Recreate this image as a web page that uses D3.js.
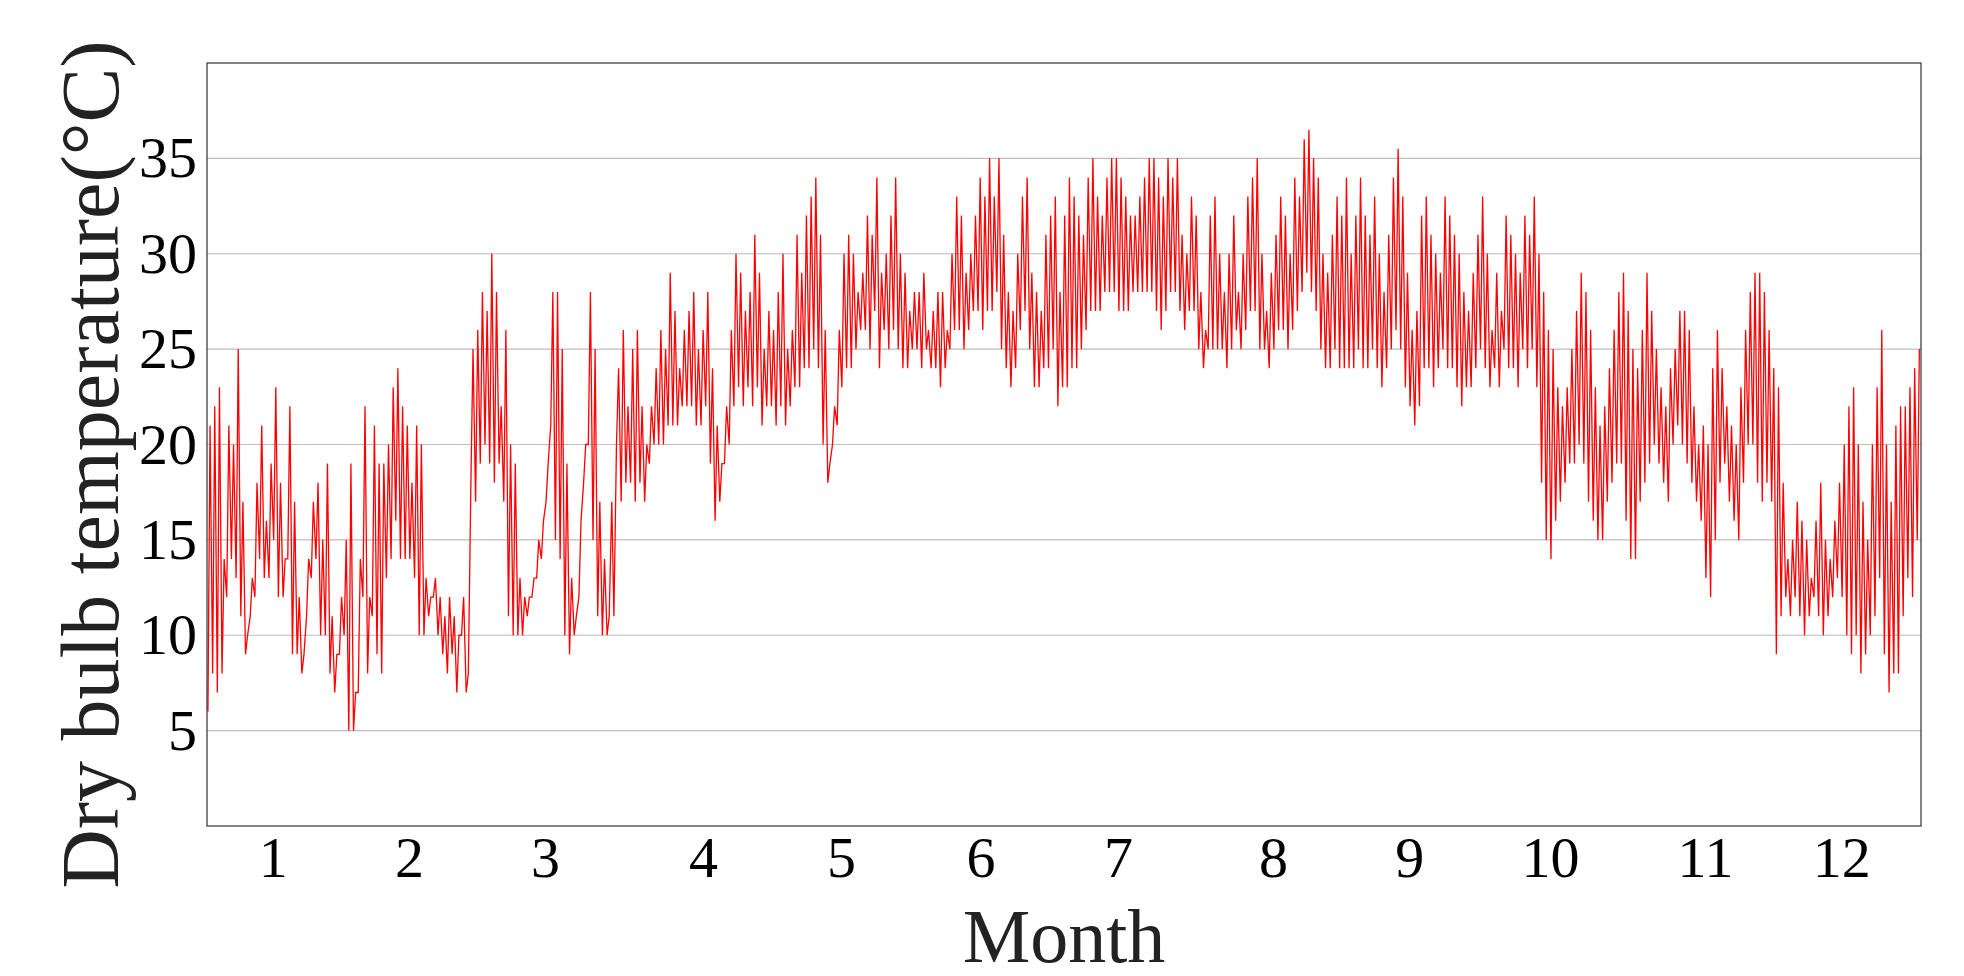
<!DOCTYPE html>
<html><head><meta charset="utf-8">
<script src="https://cdn.jsdelivr.net/npm/d3@7/dist/d3.min.js"></script>
<style>body{margin:0;background:#fff}</style></head>
<body><svg id="c" width="1964" height="976"></svg>
<script>
const monthTickDays=[14,43,72,105.6,135,164.7,194,227,256,286,319,348];
const monthLabels=["1","2","3","4","5","6","7","8","9","10","11","12"];
const yTicks=[5,10,15,20,25,30,35];
const dailyMax=[
21,22,23,14,21,20,25,17,10,13,18,21,16,19,23,18,14,22,17,12,9,14,17,18,15,19,11,9,12,15,19,
7,14,22,12,21,19,19,20,23,24,22,21,18,21,20,13,12,13,12,11,12,11,10,12,8,25,26,28,
27,30,28,22,26,20,19,13,12,12,13,15,16,19,28,28,25,19,13,11,16,20,28,25,17,14,11,11,24,26,22,
25,26,22,20,22,24,26,25,29,27,24,26,27,28,25,26,28,24,21,19,22,26,30,29,27,28,31,29,25,27,
26,28,30,25,26,31,29,32,33,34,31,26,19,22,26,30,31,30,28,29,32,31,34,29,30,32,34,30,29,27,28,
28,29,26,27,28,28,26,30,33,32,29,30,32,34,33,35,33,35,31,28,27,30,33,34,29,28,27,31,32,33,
28,32,34,33,32,31,34,35,33,32,34,35,35,34,33,32,32,33,34,35,35,34,33,35,34,35,31,30,33,32,28,
26,32,33,30,28,30,32,28,30,33,34,35,30,27,29,31,33,32,30,34,33,36,36.5,35,34,30,29,31,33,32,34,
30,32,34,32,31,33,30,28,31,34,35.5,33,29,26,27,32,33,31,30,29,33,32,31,30,28,27,29,31,33,30,
26,29,27,32,31,30,29,32,31,33,30,28,26,25,23,22,23,25,27,29,28,26,23,21,22,24,26,28,29,27,25,
24,26,29,27,25,23,22,24,25,27,27,26,22,20,21,20,24,26,24,22,21,20,23,26,28,29,29,28,26,24,
23,18,14,15,17,16,15,13,16,18,15,14,16,18,20,22,23,20,17,15,20,23,26,20,17,21,22,22,23,24,25];
const dailyMin=[
6,8,7,8,12,14,13,11,9,11,12,14,13,13,15,12,12,14,9,9,8,11,13,14,10,10,8,7,9,10,5,
5,7,12,8,11,9,8,13,14,16,14,14,14,13,10,10,11,12,10,9,8,9,7,10,7,18,17,19,
20,19,18,19,17,11,10,10,10,11,12,13,14,17,21,15,14,10,9,10,12,18,20,15,11,10,10,17,20,17,18,
18,17,18,17,19,20,20,20,21,21,21,22,22,22,21,21,22,19,16,17,19,20,22,23,22,23,22,23,21,22,
22,21,22,21,22,23,23,24,24,25,24,20,18,20,21,23,24,24,25,26,26,25,27,24,26,25,26,25,24,24,25,
25,24,25,24,24,23,24,25,26,26,25,26,27,27,26,27,27,28,25,24,23,24,26,27,25,23,23,24,24,25,
22,23,23,24,24,25,26,27,27,27,28,28,28,27,27,27,28,28,28,28,28,27,26,27,28,28,27,26,27,27,25,
24,25,25,25,25,24,25,26,25,26,27,27,25,25,24,25,26,26,25,26,27,28,29,28,27,25,24,24,25,24,24,
24,24,25,24,24,25,24,23,24,25,26,25,23,22,21,22,24,24,23,24,25,24,24,23,22,23,23,24,25,24,
23,24,23,25,24,24,23,25,24,25,23,18,15,14,16,17,18,19,19,20,19,17,16,15,15,17,18,19,19,16,14,
14,17,18,19,20,19,18,17,20,21,20,19,18,17,16,13,12,15,18,19,17,16,15,18,20,20,18,17,18,17,
9,11,12,11,12,11,10,11,12,11,10,11,12,13,12,10,9,10,8,9,10,11,13,9,7,8,8,11,13,12,15];

const svg=d3.select("#c");
const L=207,R=1921,T=63,B=826;
const x=d3.scaleLinear().domain([0,365]).range([L,R]);
const y=d3.scaleLinear().domain([0,40]).range([B,T]);
const g=svg.append("g");
g.selectAll("line.grid").data(yTicks).join("line").attr("x1",L).attr("x2",R)
 .attr("y1",d=>y(d)).attr("y2",d=>y(d)).attr("stroke","#bdbdbd").attr("stroke-width",1.2);
const pts=[];
dailyMax.forEach((mx,i)=>{pts.push([i+0.2,dailyMin[i]]);pts.push([i+0.65,mx]);});
g.append("path").datum(pts).attr("fill","none").attr("stroke","#ff0000").attr("stroke-width",1.3)
 .attr("d",d3.line().x(d=>x(d[0])).y(d=>y(d[1])));
g.append("rect").attr("x",L).attr("y",T).attr("width",R-L).attr("height",B-T)
 .attr("fill","none").attr("stroke","#333").attr("stroke-width",1.2);
const font="'Liberation Serif','Times New Roman',serif";
const xa=svg.append("g").attr("transform",`translate(0,${B})`)
 .call(d3.axisBottom(x).tickValues(monthTickDays).tickFormat((d,i)=>monthLabels[i]).tickSize(0).tickPadding(10));
xa.select(".domain").remove();
xa.selectAll("text").attr("font-family",font).attr("font-size",58).attr("fill","#000");
const ya=svg.append("g").attr("transform",`translate(${L},0)`)
 .call(d3.axisLeft(y).tickValues(yTicks).tickSize(0).tickPadding(10));
ya.select(".domain").remove();
ya.selectAll("text").attr("font-family",font).attr("font-size",58).attr("fill","#000");
svg.append("text").attr("x",(L+R)/2).attr("y",962).attr("text-anchor","middle")
 .attr("font-family",font).attr("font-size",76).attr("fill","#222").text("Month");
svg.append("text").attr("transform",`translate(118,${(T+B)/2+20}) rotate(-90)`).attr("text-anchor","middle")
 .attr("font-family",font).attr("font-size",82).attr("fill","#222").text("Dry bulb temperature(°C)");
</script></body></html>
